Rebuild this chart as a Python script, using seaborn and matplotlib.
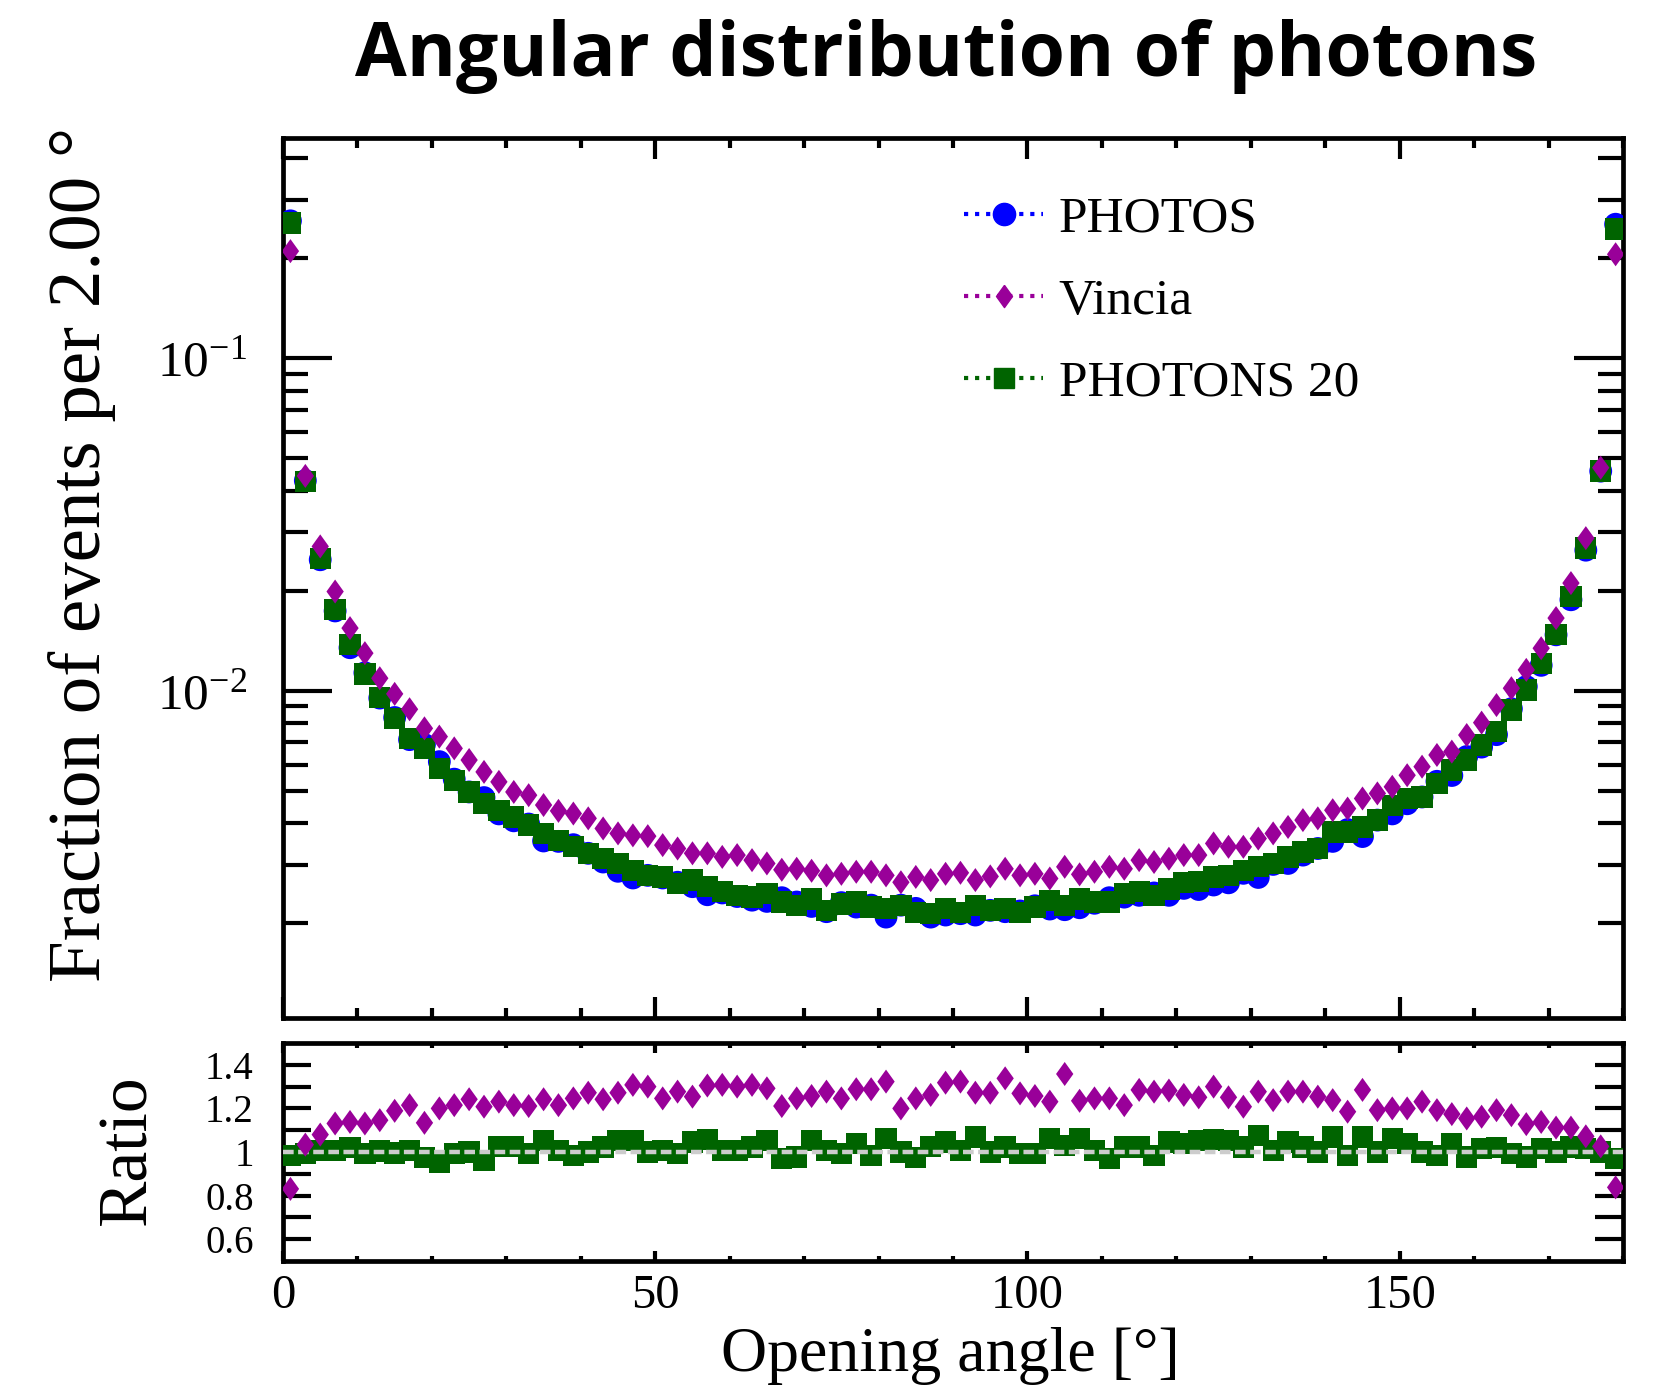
import numpy as np
import pandas as pd
import matplotlib
matplotlib.use("Agg")
import matplotlib.pyplot as plt
import seaborn as sns
from matplotlib.lines import Line2D
from matplotlib.markers import MarkerStyle
from matplotlib.ticker import FixedLocator, NullFormatter, LogLocator, FixedFormatter, MultipleLocator

# ---------------- data ----------------
angle = np.arange(1, 180, 2)  # bin centres of the 2 degree bins

photos = [0.259, 0.0429, 0.0248, 0.0174, 0.01349, 0.01134, 0.00952, 0.00832, 0.00714, 0.00690,
          0.00613, 0.00543, 0.00497, 0.00478, 0.00427, 0.00407, 0.00398, 0.00354, 0.00353, 0.00345,
          0.00325, 0.00306, 0.00287, 0.00274, 0.00279, 0.00274, 0.00266, 0.00258, 0.00244, 0.00247,
          0.00241, 0.00235, 0.00233, 0.00239, 0.00232, 0.00225, 0.00217, 0.00231, 0.00224, 0.00227,
          0.00209, 0.00227, 0.00222, 0.00209, 0.00212, 0.00214, 0.00212, 0.00219, 0.00217, 0.00218,
          0.00226, 0.00221, 0.00220, 0.00223, 0.00230, 0.00239, 0.00240, 0.00243, 0.00247, 0.00243,
          0.00255, 0.00253, 0.00261, 0.00265, 0.00283, 0.00275, 0.00301, 0.00303, 0.00321, 0.00336,
          0.00353, 0.00383, 0.00365, 0.00409, 0.00427, 0.00458, 0.00480, 0.00535, 0.00557, 0.00635,
          0.00678, 0.00739, 0.00884, 0.01031, 0.01194, 0.01475, 0.0188, 0.0265, 0.0458, 0.253]

vincia = [0.210, 0.0443, 0.0272, 0.0199, 0.01545, 0.01299, 0.01092, 0.00980, 0.00881, 0.00772,
          0.00729, 0.00672, 0.00620, 0.00571, 0.00533, 0.00497, 0.00486, 0.00454, 0.00436, 0.00428,
          0.00414, 0.00386, 0.00373, 0.00368, 0.00366, 0.00344, 0.00336, 0.00325, 0.00325, 0.00317,
          0.00321, 0.00310, 0.00303, 0.00290, 0.00292, 0.00288, 0.00279, 0.00282, 0.00286, 0.00286,
          0.00279, 0.00266, 0.00276, 0.00270, 0.00282, 0.00284, 0.00270, 0.00277, 0.00292, 0.00279,
          0.00282, 0.00273, 0.00296, 0.00281, 0.00286, 0.00296, 0.00292, 0.00310, 0.00306, 0.00313,
          0.00321, 0.00321, 0.00348, 0.00340, 0.00340, 0.00360, 0.00373, 0.00390, 0.00409, 0.00414,
          0.00438, 0.00443, 0.00475, 0.00492, 0.00515, 0.00558, 0.00592, 0.00642, 0.00657, 0.00737,
          0.00803, 0.00907, 0.01019, 0.01157, 0.01344, 0.01656, 0.0211, 0.0288, 0.0469, 0.2055]

photons20 = [0.255, 0.0426, 0.0250, 0.01754, 0.01376, 0.01125, 0.00957, 0.00828, 0.00720, 0.00672,
             0.00585, 0.00539, 0.00497, 0.00459, 0.00438, 0.00418, 0.00395, 0.00373, 0.00356, 0.00340,
             0.00325, 0.00313, 0.00303, 0.00289, 0.00279, 0.00276, 0.00264, 0.00270, 0.00258, 0.00249,
             0.00243, 0.00240, 0.00246, 0.00232, 0.00227, 0.00237, 0.00219, 0.00229, 0.00232, 0.00224,
             0.00222, 0.00227, 0.00216, 0.00214, 0.00222, 0.00216, 0.00227, 0.00219, 0.00222, 0.00216,
             0.00224, 0.00235, 0.00227, 0.00237, 0.00232, 0.00232, 0.00246, 0.00249, 0.00243, 0.00254,
             0.00265, 0.00267, 0.00276, 0.00279, 0.00289, 0.00296, 0.00303, 0.00317, 0.00328, 0.00336,
             0.00377, 0.00377, 0.00390, 0.00409, 0.00453, 0.00475, 0.00480, 0.00527, 0.00578, 0.00620,
             0.00688, 0.00754, 0.00877, 0.01007, 0.01212, 0.01475, 0.01923, 0.0269, 0.0458, 0.245]

ratio_vincia = [0.831, 1.034, 1.080, 1.131, 1.138, 1.131, 1.146, 1.189, 1.215, 1.134,
                1.200, 1.215, 1.242, 1.208, 1.231, 1.215, 1.211, 1.242, 1.215, 1.246,
                1.272, 1.242, 1.272, 1.308, 1.300, 1.246, 1.277, 1.254, 1.305, 1.308,
                1.300, 1.308, 1.292, 1.211, 1.246, 1.257, 1.277, 1.246, 1.288, 1.288,
                1.323, 1.200, 1.246, 1.262, 1.318, 1.323, 1.272, 1.272, 1.338, 1.269,
                1.257, 1.231, 1.358, 1.235, 1.246, 1.246, 1.215, 1.285, 1.277, 1.282,
                1.262, 1.251, 1.300, 1.251, 1.208, 1.277, 1.238, 1.277, 1.277, 1.254,
                1.238, 1.185, 1.285, 1.192, 1.200, 1.200, 1.231, 1.192, 1.174, 1.154,
                1.162, 1.192, 1.169, 1.128, 1.138, 1.112, 1.112, 1.072, 1.026, 0.838]

ratio_photons20 = [0.985, 0.992, 1.008, 1.008, 1.020, 0.992, 1.005, 0.995, 1.008, 0.974,
                   0.954, 0.992, 1.000, 0.960, 1.026, 1.026, 0.992, 1.054, 1.008, 0.985,
                   1.000, 1.023, 1.054, 1.054, 1.000, 1.008, 0.992, 1.046, 1.057, 1.008,
                   1.008, 1.023, 1.054, 0.969, 0.977, 1.054, 1.008, 0.992, 1.038, 0.985,
                   1.062, 1.000, 0.974, 1.026, 1.046, 1.008, 1.069, 1.000, 1.023, 0.992,
                   0.992, 1.062, 1.031, 1.062, 1.008, 0.969, 1.023, 1.023, 0.985, 1.046,
                   1.038, 1.054, 1.057, 1.054, 1.023, 1.077, 1.008, 1.046, 1.023, 1.000,
                   1.069, 0.985, 1.069, 1.000, 1.062, 1.038, 1.000, 0.985, 1.038, 0.977,
                   1.015, 1.020, 0.992, 0.977, 1.015, 1.000, 1.023, 1.015, 1.000, 0.969]

labels = ["PHOTOS", "Vincia", "PHOTONS 20"]
colors = ["#0000ff", "#990099", "#006400"]
title = "Angular distribution of photons"
y_ticks_main = [1e-2, 1e-1]
r_ticks = [0.6, 0.8, 1.0, 1.2, 1.4]
r_ticklabels = ["0.6", "0.8", "1", "1.2", "1.4"]
x_ticks = [0, 50, 100, 150]

df = pd.DataFrame({"angle": angle, "photos": photos, "vincia": vincia,
                   "photons20": photons20, "r_vincia": ratio_vincia,
                   "r_photons20": ratio_photons20})

# ---------------- style ----------------
sns.set_theme(style="white")
plt.rcParams["font.family"] = ["Liberation Serif", "DejaVu Serif"]
plt.rcParams["mathtext.fontset"] = "stix"
plt.rcParams["axes.linewidth"] = 3.4
plt.rcParams["axes.edgecolor"] = "black"
plt.rcParams["text.color"] = "black"
plt.rcParams["axes.labelcolor"] = "black"
plt.rcParams["xtick.color"] = "black"
plt.rcParams["ytick.color"] = "black"

diamond = MarkerStyle([(0, 1), (0.72, 0), (0, -1), (-0.72, 0), (0, 1)])

S_CIRCLE, S_SQUARE, S_DIAMOND = 270, 235, 300

fig = plt.figure(figsize=(16.55, 13.87), dpi=100)
ax = fig.add_axes([0.1710, 0.2661, 0.8097, 0.6345])
axr = fig.add_axes([0.1710, 0.0908, 0.8097, 0.1572])

# main panel
sns.scatterplot(data=df, x="angle", y="photos", ax=ax, marker="o", s=S_CIRCLE,
                color=colors[0], edgecolor="none", linewidth=0, zorder=3, legend=False)
sns.scatterplot(data=df, x="angle", y="photons20", ax=ax, marker="s", s=S_SQUARE,
                color=colors[2], edgecolor="none", linewidth=0, zorder=4, legend=False)
sns.scatterplot(data=df, x="angle", y="vincia", ax=ax, marker=diamond, s=S_DIAMOND,
                color=colors[1], edgecolor="none", linewidth=0, zorder=5, legend=False)
ax.set_yscale("log")
ax.set_xlim(0, 180)
ax.set_ylim(1.04e-3, 0.46)
ax.set_xlabel("")
ax.set_ylabel("")
ax.xaxis.set_major_locator(FixedLocator(x_ticks))
ax.xaxis.set_minor_locator(MultipleLocator(10))
ax.yaxis.set_major_locator(FixedLocator(y_ticks_main))
ax.yaxis.set_minor_locator(LogLocator(base=10, subs=np.arange(2, 10)))
ax.yaxis.set_minor_formatter(NullFormatter())
ax.tick_params(which="both", direction="in", top=True, right=True, bottom=True, left=True,
               labelbottom=False, width=3.0, color="black")
ax.tick_params(axis="y", which="major", length=35, labelsize=37, pad=26)
ax.tick_params(axis="y", which="minor", length=18)
ax.tick_params(axis="x", which="major", length=15)
ax.tick_params(axis="x", which="minor", length=7.5)

handles = [Line2D([], [], color=colors[0], ls=":", lw=3, marker="o", markersize=16),
           Line2D([], [], color=colors[1], ls=":", lw=3, marker=diamond, markersize=16),
           Line2D([], [], color=colors[2], ls=":", lw=3, marker="s", markersize=14)]
ax.legend(handles, labels, loc="upper left", bbox_to_anchor=(0.508, 0.934), frameon=False,
          fontsize=37, handlelength=1.55, handletextpad=0.3, labelspacing=0.68,
          borderpad=0, borderaxespad=0)

# ratio panel
axr.axhline(1.0, color="#cccccc", lw=3.2, dashes=(2.4, 1.0), zorder=4)
sns.scatterplot(data=df, x="angle", y="r_photons20", ax=axr, marker="s", s=S_SQUARE,
                color=colors[2], edgecolor="none", linewidth=0, zorder=3, legend=False)
sns.scatterplot(data=df, x="angle", y="r_vincia", ax=axr, marker=diamond, s=S_DIAMOND,
                color=colors[1], edgecolor="none", linewidth=0, zorder=5, legend=False)
axr.set_xlim(0, 180)
axr.set_ylim(0.5, 1.5)
axr.set_xlabel("")
axr.set_ylabel("")
axr.xaxis.set_major_locator(FixedLocator(x_ticks))
axr.xaxis.set_minor_locator(MultipleLocator(10))
axr.yaxis.set_major_locator(FixedLocator(r_ticks))
axr.yaxis.set_major_formatter(FixedFormatter(r_ticklabels))
axr.yaxis.set_minor_locator(FixedLocator([0.7, 0.9, 1.1, 1.3]))
axr.tick_params(which="both", direction="in", top=True, right=True, bottom=True, left=True,
                width=3.0, color="black")
axr.tick_params(axis="y", which="both", length=20)
axr.tick_params(axis="y", which="major", labelsize=28, pad=21)
axr.tick_params(axis="x", which="major", length=7, labelsize=35, pad=9)
axr.tick_params(axis="x", which="minor", length=3.5)

# texts
fig.text(0.0495, 0.6005, "Fraction of events per 2.00 \u00b0", rotation=90,
         ha="center", va="center", fontsize=54)
fig.text(0.078, 0.1709, "Ratio", rotation=90, ha="center", va="center", fontsize=50)
fig.text(0.574, 0.022, "Opening angle [\u00b0]", ha="center", va="center", fontsize=46)
fig.text(0.5715, 0.959, title, ha="center", va="center", fontsize=54,
         fontweight="bold", family=["Open Sans", "DejaVu Sans"])

fig.savefig("out.png", dpi=100)
